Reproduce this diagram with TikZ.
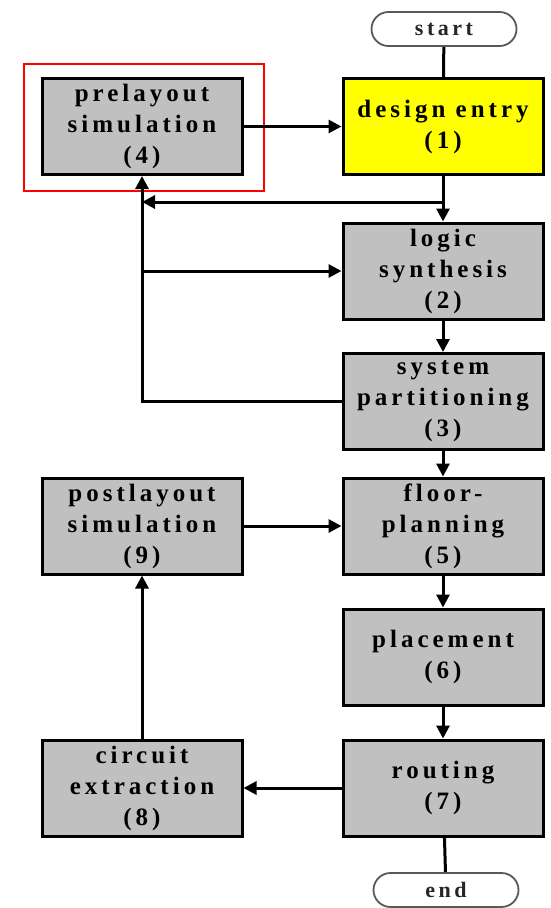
\documentclass[tikz,border=0pt]{standalone}
\usepackage{fontspec}
\setmainfont[LetterSpace=16]{Liberation Serif}
\usetikzlibrary{arrows.meta,shapes.misc}
\definecolor{boxgray}{HTML}{C0C0C0}
\definecolor{entryyellow}{HTML}{FFFF00}
\begin{document}
\begin{tikzpicture}[x=1pt,y=-1pt,
  box/.style={draw=black, line width=3pt, fill=boxgray, minimum width=200pt, minimum height=96pt,
    inner sep=0pt, align=center, font=\fontsize{25}{31}\selectfont\bfseries},
  term/.style={rounded rectangle, draw=gray!70!black, line width=1.8pt, fill=white,
    minimum width=145pt, minimum height=34pt, inner sep=0pt, font=\fontsize{22}{25}\selectfont\bfseries, text=black!85},
  conn/.style={line width=3pt},
  arr/.style={conn, -{Triangle[length=13pt,width=13pt]}}]
\useasboundingbox (0,0) rectangle (550,908);

\node[draw=red, line width=2pt, minimum width=240pt, minimum height=127pt, inner sep=0pt] (hl) at (144,127.5) {};

\node[term] (start) at (444,29) {start};
\node[box, fill=entryyellow] (de) at (443,126.5) {design entry\\(1)};
\node[box] (ls) at (443,271) {logic\\synthesis\\(2)};
\node[box] (sp) at (443,401.5) {system\\partitioning\\(3)};
\node[box] (fp) at (443,526) {floor-\\planning\\(5)};
\node[box] (pl) at (443,657) {placement\\(6)};
\node[box] (rt) at (443,788) {routing\\(7)};
\node[term] (end) at (446,890) {end};

\node[box] (pre) at (142,126.5) {prelayout\\simulation\\(4)};
\node[box] (post) at (142,526) {postlayout\\simulation\\(9)};
\node[box] (ce) at (142,788) {circuit\\extraction\\(8)};

\coordinate (y202) at (0,202);
\coordinate (j1) at (de.south |- y202);

\draw[conn] (start) -- (de);
\draw[arr] (de) -- (ls);
\draw[arr] (j1) -- (pre.south |- j1);
\draw[arr] (sp.west) -- (pre.south |- sp.west) -- (pre.south);
\draw[arr] (pre.south |- ls.west) -- (ls.west);
\draw[arr] (pre.east) -- (de.west);
\draw[arr] (ls) -- (sp);
\draw[arr] (sp) -- (fp);
\draw[arr] (post.east) -- (fp.west);
\draw[arr] (fp) -- (pl);
\draw[arr] (pl) -- (rt);
\draw[arr] (rt.west) -- (ce.east);
\draw[arr] (ce.north) -- (post.south);
\draw[conn] (rt) -- (end);
\end{tikzpicture}
\end{document}
